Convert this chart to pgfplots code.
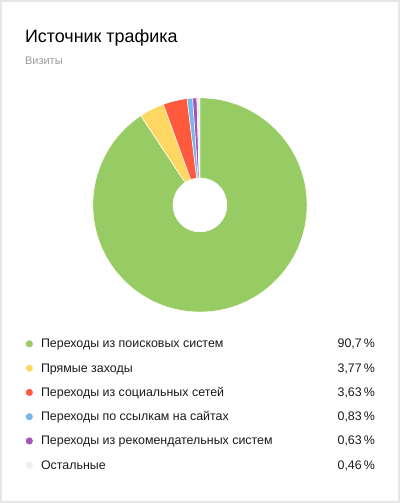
\documentclass[border=0pt]{standalone}
\usepackage{pgfplots}
\pgfplotsset{compat=1.18}
\usepackage{fontspec}
\setmainfont{Liberation Sans}
\definecolor{cgreen}{HTML}{97CC64}
\definecolor{cyellow}{HTML}{FFD763}
\definecolor{cred}{HTML}{FF5A3D}
\definecolor{cblue}{HTML}{78B7EA}
\definecolor{cpurple}{HTML}{A653BC}
\definecolor{cgray}{HTML}{EEEEEE}
\definecolor{cborder}{HTML}{E6E6E6}
\definecolor{ctext}{HTML}{1A1A1A}
\definecolor{csub}{HTML}{999999}
\begin{document}
\begin{tikzpicture}
\begin{axis}[hide axis, scale only axis, width=400bp, height=503bp,
  xmin=0, xmax=400, ymin=0, ymax=503, clip=false]
% card
\draw[cborder, line width=1.6bp] (axis cs:1,1) rectangle (axis cs:399,502);
% title
\node[anchor=base west, font=\fontsize{17.9bp}{20bp}\selectfont, text=black, inner sep=0pt] at (axis cs:25,460.5) {Источник трафика};
\node[anchor=base west, font=\fontsize{11bp}{12bp}\selectfont, text=csub, inner sep=0pt] at (axis cs:25,438.5) {Визиты};
% donut: shares in percent, clockwise from 12 o'clock
\gdef\cum{0}
\def\scl{0.99980}% 100/100.02
\foreach \v/\c in {90.7/cgreen, 3.77/cyellow, 3.63/cred, 0.83/cblue, 0.63/cpurple, 0.46/cgray}{%
  \pgfmathsetmacro\aone{90-3.6*\cum*\scl}%
  \pgfmathsetmacro\atwo{90-3.6*(\cum+\v)*\scl}%
  \edef\temp{\noexpand\fill[\c, draw=white, line width=0.5bp] ([shift={(\aone:107bp)}]axis cs:200,298) arc[start angle=\aone, end angle=\atwo, radius=107bp] -- ([shift={(\atwo:27bp)}]axis cs:200,298) arc[start angle=\atwo, end angle=\aone, radius=27bp] -- cycle;}%
  \temp
  \pgfmathsetmacro\newcum{\cum+\v}%
  \global\let\cum\newcum
}
% legend dots
\addplot[only marks, mark=*, mark size=3.3bp, cgreen] coordinates {(29.5,159.2)};
\addplot[only marks, mark=*, mark size=3.3bp, cyellow] coordinates {(29.5,134.9)};
\addplot[only marks, mark=*, mark size=3.3bp, cred] coordinates {(29.5,110.7)};
\addplot[only marks, mark=*, mark size=3.3bp, cblue] coordinates {(29.5,86.4)};
\addplot[only marks, mark=*, mark size=3.3bp, cpurple] coordinates {(29.5,62.2)};
\addplot[only marks, mark=*, mark size=3.3bp, cgray] coordinates {(29.5,37.9)};
% legend labels
\tikzset{lab/.style={anchor=base west, font=\fontsize{12.4bp}{15bp}\selectfont, text=ctext, inner sep=0pt},
         val/.style={anchor=base east, font=\fontsize{12.4bp}{15bp}\selectfont, text=ctext, inner sep=0pt}}
\node[lab] at (axis cs:41,155.2) {Переходы из поисковых систем};
\node[lab] at (axis cs:41,130.9) {Прямые заходы};
\node[lab] at (axis cs:41,106.7) {Переходы из социальных сетей};
\node[lab] at (axis cs:41,82.4) {Переходы по ссылкам на сайтах};
\node[lab] at (axis cs:41,58.2) {Переходы из рекомендательных систем};
\node[lab] at (axis cs:41,33.9) {Остальные};
\node[val] at (axis cs:375,155.2) {90,7\,\%};
\node[val] at (axis cs:375,130.9) {3,77\,\%};
\node[val] at (axis cs:375,106.7) {3,63\,\%};
\node[val] at (axis cs:375,82.4) {0,83\,\%};
\node[val] at (axis cs:375,58.2) {0,63\,\%};
\node[val] at (axis cs:375,33.9) {0,46\,\%};
\end{axis}
\end{tikzpicture}
\end{document}
